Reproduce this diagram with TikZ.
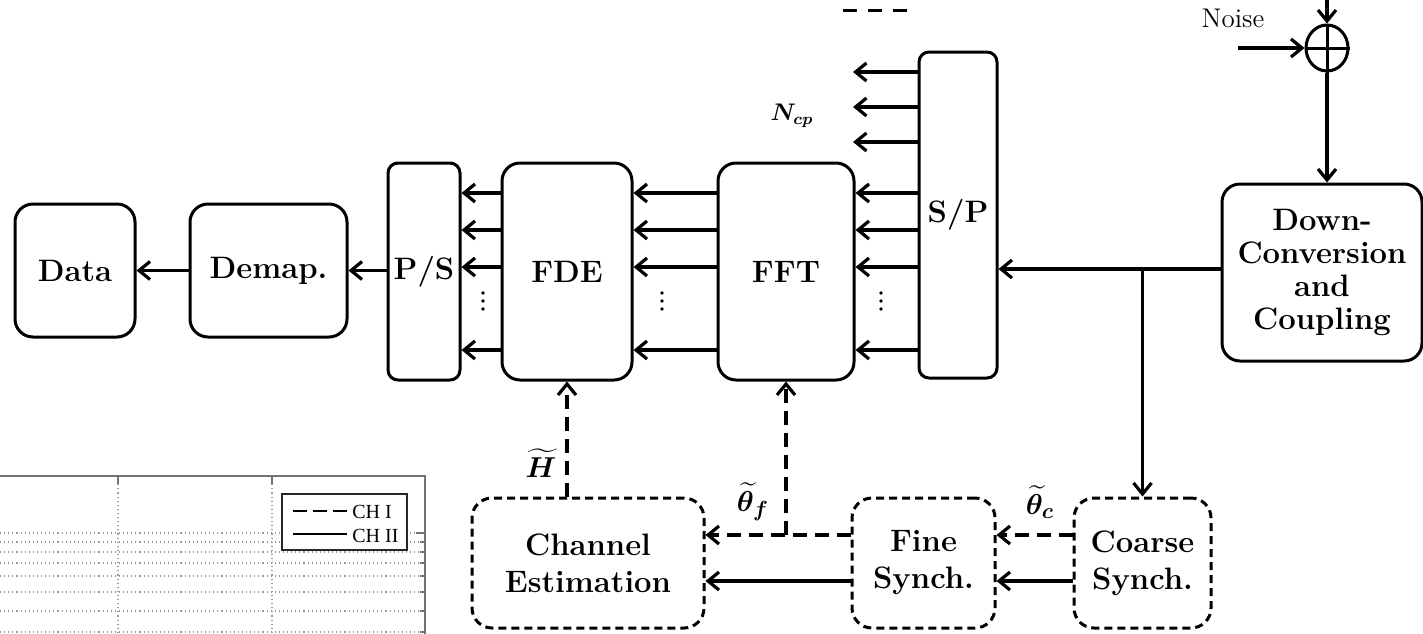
\documentclass[tikz,border=0pt]{standalone}
\usepackage{amsmath}
\usepackage{bm}
\usepackage{fontspec}
\newfontfamily\plotfont{Liberation Serif}
\usetikzlibrary{arrows.meta,shapes.geometric}
\definecolor{axgray}{gray}{0.45}
\definecolor{gridgray}{gray}{0.6}
\begin{document}
\begin{tikzpicture}[x=0.5pt,y=-0.5pt,
  >={Straight Barb[length=5.5pt,width=9pt]},
  conn/.style={line width=1.6pt,->},
  dconn/.style={line width=1.6pt,->,dash pattern=on 7pt off 4pt},
  blk/.style={draw,line width=1.5pt,rounded corners=9pt,inner sep=0pt,align=center,
    font=\fontsize{15.5}{16.5}\selectfont\bfseries},
  narrow/.style={blk,rounded corners=5pt},
  dblk/.style={blk,rounded corners=10pt,dash pattern=on 4pt off 2.5pt,
    font=\fontsize{15.5}{18.5}\selectfont\bfseries},
  lbl/.style={inner sep=0pt,font=\fontsize{15}{18}\selectfont},
  axisline/.style={draw=axgray,line width=1pt},
  gridline/.style={draw=gridgray,line width=0.55pt,dash pattern=on 0.55pt off 1.5pt},
  legtext/.style={anchor=base west,inner sep=0pt,font=\plotfont\fontsize{10}{12}\selectfont}
]
\fill[white] (0,0) rectangle (1423,633);
\useasboundingbox (0,0) rectangle (1423,633);

% ---------- plot fragment (bottom left) ----------
\foreach \y in {533,542,552,563,576,592,611,632}
  \draw[gridline] (0,\y) -- (425,\y);
\foreach \x in {118,272}
  \draw[gridline] (\x,476) -- (\x,633);
\draw[axisline] (0,476) -- (425,476) -- (425,634);
\foreach \x in {118,272}
  \draw[axisline] (\x,476) -- (\x,484);
\draw[axisline] (425,533) -- (416,533);
\foreach \y in {542,552,563,576,592,611,632}
  \draw[axisline] (425,\y) -- (420,\y);
\node[draw=black!85,fill=white,line width=0.7pt,minimum width=62.5pt,minimum height=28pt,inner sep=0pt] (leg) at (344.5,522) {};
\coordinate (l1a) at (293,511); \coordinate (l1b) at (347,511);
\coordinate (l2a) at (293,534); \coordinate (l2b) at (347,534);
\draw[line width=0.8pt,dash pattern=on 7pt off 3pt] (l1a) -- (l1b);
\draw[line width=0.8pt] (l2a) -- (l2b);
\node[legtext] (ch1) at (352,518) {CH I};
\node[legtext] (ch2) at (352,542) {CH II};

% ---------- top stray dashes ----------
\coordinate (td1) at (843,10); \coordinate (td2) at (907,10);
\draw[line width=1.5pt,dash pattern=on 7pt off 5.5pt] (td1) -- (td2);

% ---------- blocks ----------
\node[blk,minimum width=60pt,minimum height=66.5pt] (data) at (75,270.5) {Data};
\node[blk,minimum width=78.5pt,minimum height=66.5pt] (demap) at (268.5,270.5) {Demap.};
\node[narrow,minimum width=36pt,minimum height=108.5pt] (ps) at (424,271.5) {P/S};
\node[blk,minimum width=65pt,minimum height=108.5pt] (fde) at (567,271.5) {FDE};
\node[blk,minimum width=68pt,minimum height=108.5pt] (fft) at (786,271.5) {FFT};
\node[narrow,minimum width=39pt,minimum height=163pt] (sp) at (958,215) {S/P};
\node[blk,minimum width=100pt,minimum height=88.5pt] (dcc) at (1322,272.5) {Down-\\Conversion\\and\\Coupling};
\node[dblk,minimum width=116pt,minimum height=65pt] (chest) at (588,563) {Channel\\Estimation};
\node[dblk,minimum width=71.5pt,minimum height=65pt] (fine) at (923.5,563) {Fine\\Synch.};
\node[dblk,minimum width=68.5pt,minimum height=65pt] (coarse) at (1142.5,563) {Coarse\\Synch.};

% adder and noise
\node[draw,ellipse,line width=1.5pt,minimum width=21pt,minimum height=23pt,inner sep=0pt] (sum) at (1327,48) {};
\draw[line width=1.5pt] (sum.west) -- (sum.east);
\draw[line width=1.5pt] (sum.north) -- (sum.south);
\node[inner sep=0pt,anchor=base,font=\fontsize{13.5}{16}\selectfont] (noise) at (1233,27) {Noise};
\coordinate (noisein) at (1238,48);
\coordinate (topin) at (1327,-2);
\draw[conn] (noisein) -- (sum.west);
\draw[conn] (topin) -- (sum.north);
\draw[conn] (sum.south) -- (sum.south |- dcc.north);

% ---------- main chain ----------
\draw[conn] (demap.west) -- (data.east);
\draw[conn] (ps.west |- demap.east) -- (demap.east);
\foreach \y in {193,230,267,350}{
  \draw[conn] (fde.west |- 0,\y) -- (ps.east |- 0,\y);
  \draw[conn] (fft.west |- 0,\y) -- (fde.east |- 0,\y);
  \draw[conn] (sp.west |- 0,\y) -- (fft.east |- 0,\y);
}
\coordinate (ncpend) at (853,107);
\foreach \y in {72,107,142}
  \draw[conn] (sp.west |- 0,\y) -- (ncpend |- 0,\y);
\node[lbl,font=\fontsize{11.5}{14}\selectfont] (ncp) at (792,116) {$\bm{N_{cp}}$};

\foreach \x in {483,662,881}
  \foreach \y in {293,301,309}
    \fill (\x,\y) circle (0.9pt);

\coordinate (j) at (coarse.north |- 0,269);
\draw[conn] (dcc.west |- j) -- (sp.east |- j);
\draw[conn] (j) -- (coarse.north);

% ---------- synchronisation / estimation ----------
\draw[dconn] (coarse.west |- 0,535) -- (fine.east |- 0,535);
\draw[conn] (coarse.west |- 0,581) -- (fine.east |- 0,581);
\draw[dconn] (fine.west |- 0,535) -- (chest.east |- 0,535);
\draw[conn] (fine.west |- 0,581) -- (chest.east |- 0,581);
\draw[dconn] (fft.south |- 0,535) -- (fft.south);
\draw[dconn] (fde.south |- chest.north) -- (fde.south);

\node[lbl] (hl) at (541,463) {$\widetilde{\bm H}$};
\node[lbl] (tf) at (753,502) {$\widetilde{\bm\theta}_{\bm f}$};
\node[lbl] (tc) at (1040,502) {$\widetilde{\bm\theta}_{\bm c}$};
\end{tikzpicture}
\end{document}
